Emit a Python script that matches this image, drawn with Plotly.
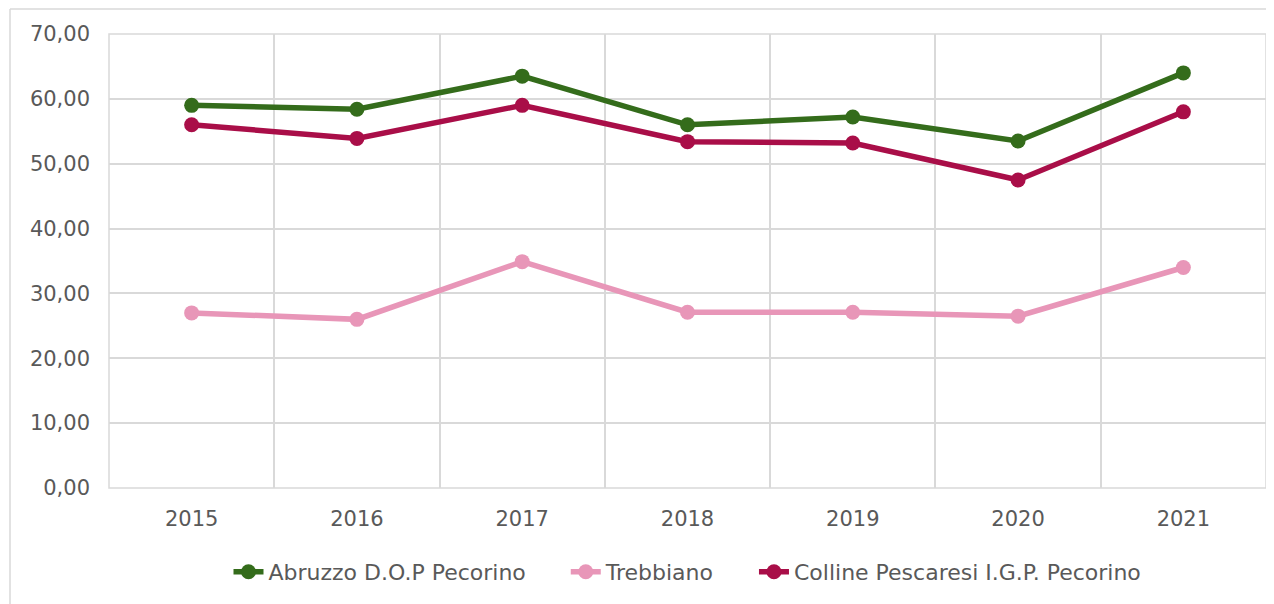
import plotly.graph_objects as go

years = [2015, 2016, 2017, 2018, 2019, 2020, 2021]
abruzzo = [59.0, 58.4, 63.5, 56.0, 57.2, 53.5, 64.0]
trebbiano = [27.0, 26.0, 34.9, 27.1, 27.1, 26.5, 34.0]
colline = [56.0, 53.9, 59.0, 53.4, 53.2, 47.5, 58.0]

series = [
    ("Abruzzo D.O.P Pecorino", abruzzo, "#346C1B"),
    ("Trebbiano", trebbiano, "#E896B8"),
    ("Colline Pescaresi I.G.P. Pecorino", colline, "#A90E48"),
]

FONT = "DejaVu Sans"
TXT = "#595959"
grid = "#D9D9D9"
PAD = "\u00a0" * 5

# plot area in figure pixels
L, T, W, H = 101, 26, 1157, 454
FW, FH = 1274, 604

fig = go.Figure()
for i, (name, vals, col) in enumerate(series):
    fig.add_trace(go.Scatter(
        x=years, y=vals, name=name + (PAD if i < len(series) - 1 else ""),
        mode="lines+markers",
        line=dict(color=col, width=5.5),
        marker=dict(color=col, size=15),
    ))

fig.update_layout(
    width=FW, height=FH,
    margin=dict(l=L, r=FW - L - W, t=T, b=FH - T - H),
    paper_bgcolor="white", plot_bgcolor="white",
    separators=",.",
    font=dict(family=FONT, size=21, color=TXT),
    showlegend=True,
    legend=dict(orientation="h", x=0.5, xanchor="center", y=-0.185, yanchor="middle",
                font=dict(size=22, color=TXT), traceorder="normal"),
    xaxis=dict(
        range=[2014.5, 2021.5], tickmode="array", tickvals=years,
        ticktext=[str(y) for y in years],
        showgrid=False, zeroline=False, showline=False, ticks="",
        ticklabelstandoff=16,
        minor=dict(tickmode="array", tickvals=[2014.5 + i for i in range(8)],
                   showgrid=True, gridcolor=grid, gridwidth=1.5, ticks=""),
    ),
    yaxis=dict(
        range=[0, 70], tickmode="linear", tick0=0, dtick=10, tickformat=".2f",
        showgrid=True, gridcolor=grid, gridwidth=1.5, zeroline=False,
        showline=False, ticks="", ticklabelstandoff=18,
    ),
)

# plot-area border
fig.add_shape(type="rect", xref="paper", yref="paper", x0=0, x1=1, y0=0, y1=1,
              line=dict(color=grid, width=1.5), layer="below")

# chart-area border (top and left edges visible)
px_x = lambda p: (p - L) / W
px_y = lambda p: (T + H - p) / H
fig.add_shape(type="line", xref="paper", yref="paper",
              x0=px_x(2), x1=px_x(FW + 10), y0=px_y(1), y1=px_y(1),
              line=dict(color=grid, width=1.5))
fig.add_shape(type="line", xref="paper", yref="paper",
              x0=px_x(2), x1=px_x(2), y0=px_y(1), y1=px_y(FH + 10),
              line=dict(color=grid, width=1.5))

fig.write_html("out.html")
